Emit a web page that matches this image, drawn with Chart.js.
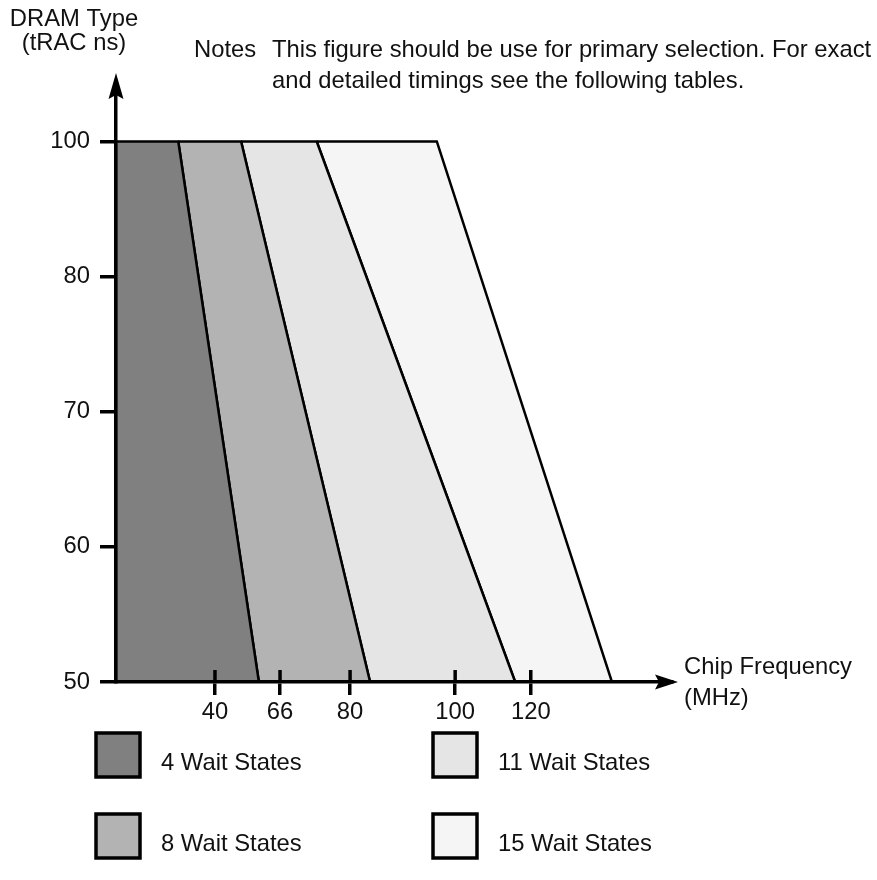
<!DOCTYPE html>
<html>
<head>
<meta charset="utf-8">
<title>DRAM type vs chip frequency</title>
<script src="https://cdn.jsdelivr.net/npm/chart.js@4.4.1/dist/chart.umd.min.js"></script>
<style>
  html, body { margin: 0; padding: 0; background: #fff; }
  #wrap { position: relative; width: 877px; height: 880px; }
</style>
</head>
<body>
<div id="wrap"><canvas id="waitChart"></canvas></div>
<script>
// tRAC levels on the vertical axis (the figure spaces them evenly)
const tracLevels = [50, 60, 70, 80, 100];
// chip frequency labels and where they sit along the schematic frequency axis (0-100)
const freqLabels = ['40', '66', '80', '100', '120'];
const freqPos = [17.8, 29.5, 42.1, 61.0, 74.6];

const waitLabels = ['4 Wait States', '8 Wait States', '11 Wait States', '15 Wait States'];
const waitColors = ['#808080', '#b3b3b3', '#e5e5e5', '#f5f5f5'];
// region boundaries along the frequency axis, at tRAC 100 and at tRAC 50
const edgeTop = [0, 11.2, 22.5, 36.1, 57.7];
const edgeBottom = [0, 25.7, 45.7, 71.8, 89.2];

const TOP = tracLevels.indexOf(100);
const BOTTOM = tracLevels.indexOf(50);
const FONT = '23.8px "Liberation Sans", Arial, Helvetica, sans-serif';

Chart.defaults.font.family = '"Liberation Sans", Arial, Helvetica, sans-serif';
Chart.defaults.font.size = 23.8;
Chart.defaults.color = '#111';

// each wait-state band is a closed quadrilateral filled inside its own outline
const datasets = waitLabels.map((label, i) => ({
	label: label,
	data: [
		{x: edgeTop[i], y: TOP},
		{x: edgeTop[i + 1], y: TOP},
		{x: edgeBottom[i + 1], y: BOTTOM},
		{x: edgeBottom[i], y: BOTTOM},
		{x: edgeTop[i], y: TOP}
	],
	backgroundColor: waitColors[i],
	borderColor: '#000',
	borderWidth: 2.5,
	fill: 'shape',
	pointRadius: 0,
	tension: 0
}));

// arrows, inner tick halves, captions and the 2x2 legend
const decor = {
	id: 'decor',
	afterDatasetsDraw(chart) {
		const {ctx, chartArea: a, scales: {x}} = chart;
		ctx.save();
		ctx.strokeStyle = '#000';
		ctx.lineWidth = 3.5;
		x.ticks.forEach(t => {
			const px = x.getPixelForValue(t.value);
			ctx.beginPath();
			ctx.moveTo(px, a.bottom - 12);
			ctx.lineTo(px, a.bottom);
			ctx.stroke();
		});
		ctx.restore();
	},
	afterDraw(chart) {
		const {ctx, chartArea: a} = chart;
		ctx.save();
		ctx.fillStyle = '#000';
		ctx.beginPath();
		ctx.moveTo(a.left, a.top - 9);
		ctx.lineTo(a.left + 7.5, a.top + 17);
		ctx.lineTo(a.left, a.top + 13);
		ctx.lineTo(a.left - 7.5, a.top + 17);
		ctx.closePath();
		ctx.fill();
		ctx.beginPath();
		ctx.moveTo(a.right + 6, a.bottom);
		ctx.lineTo(a.right - 17, a.bottom - 7.5);
		ctx.lineTo(a.right - 13, a.bottom);
		ctx.lineTo(a.right - 17, a.bottom + 7.5);
		ctx.closePath();
		ctx.fill();

		ctx.font = FONT;
		ctx.fillStyle = '#111';
		ctx.textBaseline = 'alphabetic';
		ctx.textAlign = 'center';
		ctx.fillText('DRAM Type', 74, 26);
		ctx.fillText('(tRAC ns)', 74, 50);
		ctx.textAlign = 'left';
		ctx.fillText('Notes', 194, 57);
		ctx.fillText('This figure should be use for primary selection. For exact', 272, 57);
		ctx.fillText('and detailed timings see the following tables.', 272, 88);
		ctx.fillText('Chip Frequency', 684, 674);
		ctx.fillText('(MHz)', 684, 705);

		const colX = [96, 433];
		const rowY = [733, 814];
		chart.data.datasets.forEach((ds, i) => {
			const bx = colX[Math.floor(i / 2)];
			const by = rowY[i % 2];
			ctx.fillStyle = ds.backgroundColor;
			ctx.fillRect(bx, by, 44, 44);
			ctx.lineWidth = 3.5;
			ctx.strokeStyle = '#000';
			ctx.strokeRect(bx, by, 44, 44);
			ctx.fillStyle = '#111';
			ctx.fillText(ds.label, bx + 65, by + 37);
		});
		ctx.restore();
	}
};

new Chart(document.getElementById('waitChart'), {
	type: 'line',
	data: { datasets: datasets },
	options: {
		responsive: true,
		maintainAspectRatio: false,
		animation: false,
		events: [],
		layout: { padding: { top: 82, right: 205, bottom: 0, left: 0 } },
		plugins: {
			legend: { display: false },
			tooltip: { enabled: false }
		},
		scales: {
			x: {
				type: 'linear',
				min: 0,
				max: 100,
				afterBuildTicks: s => { s.ticks = freqPos.map(v => ({value: v})); },
				afterFit: s => { s.height = 198; },
				ticks: {
					callback: (v, i) => freqLabels[i],
					padding: 3,
					maxRotation: 0,
					autoSkip: false
				},
				grid: { drawOnChartArea: false, color: '#000', lineWidth: 3.5, tickLength: 13 },
				border: { color: '#000', width: 3.5, z: 1 }
			},
			y: {
				type: 'linear',
				min: 0,
				max: 4.44,
				afterBuildTicks: s => { s.ticks = tracLevels.map((v, i) => ({value: i})); },
				afterFit: s => { s.width = 116; },
				ticks: {
					callback: v => String(tracLevels[v]),
					padding: 10,
					autoSkip: false
				},
				grid: { drawOnChartArea: false, color: '#000', lineWidth: 3.5, tickLength: 16 },
				border: { color: '#000', width: 3.5, z: 1 }
			}
		}
	},
	plugins: [decor]
});
</script>
</body>
</html>
